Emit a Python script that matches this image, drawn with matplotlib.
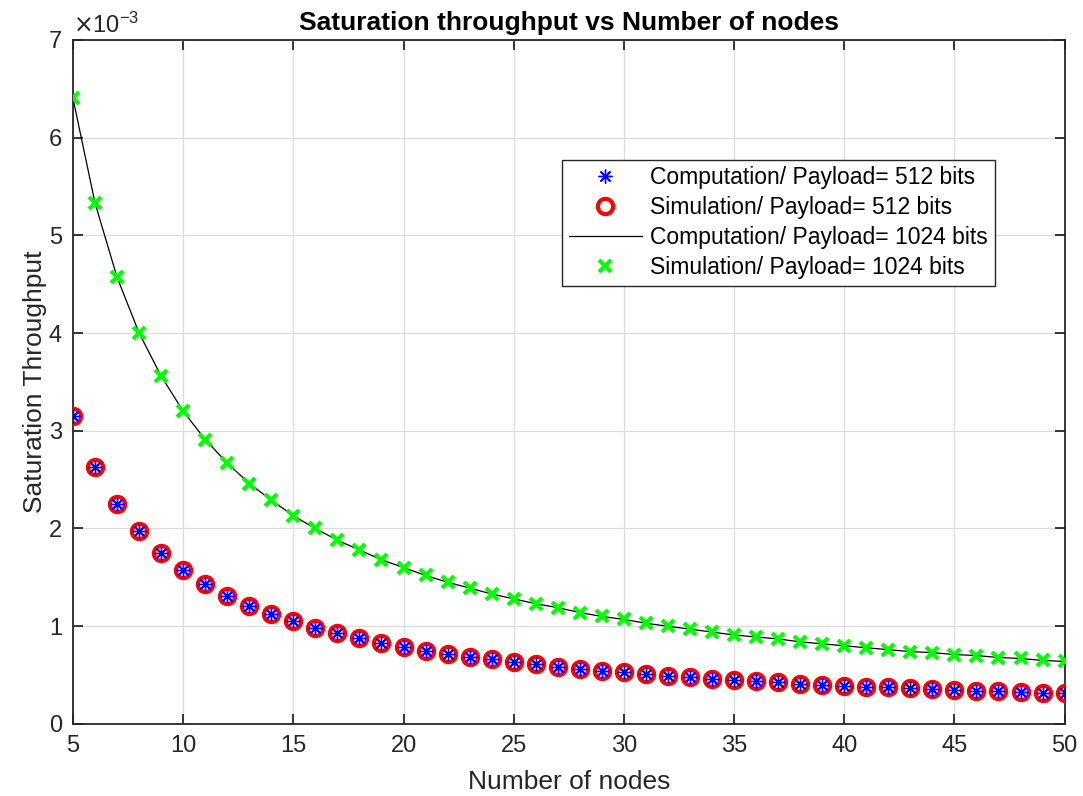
import numpy as np
import matplotlib.pyplot as plt

plt.rcParams['font.family'] = ['Liberation Sans', 'DejaVu Sans']

# Datos (throughput en unidades de 1e-3)
nodes = list(range(5, 51))
thr_512 = [3.15, 2.63, 2.25, 1.97, 1.75, 1.58, 1.43, 1.31, 1.21, 1.13,
           1.05, 0.98, 0.93, 0.88, 0.83, 0.79, 0.75, 0.72, 0.69, 0.66,
           0.63, 0.61, 0.58, 0.56, 0.54, 0.53, 0.51, 0.49, 0.48, 0.46,
           0.45, 0.44, 0.43, 0.41, 0.40, 0.39, 0.38, 0.38, 0.37, 0.36,
           0.35, 0.34, 0.34, 0.33, 0.32, 0.32]
thr_1024 = [6.40, 5.33, 4.57, 4.00, 3.56, 3.20, 2.91, 2.67, 2.46, 2.29,
            2.13, 2.00, 1.88, 1.78, 1.68, 1.60, 1.52, 1.45, 1.39, 1.33,
            1.28, 1.23, 1.19, 1.14, 1.10, 1.07, 1.03, 1.00, 0.97, 0.94,
            0.91, 0.89, 0.87, 0.84, 0.82, 0.80, 0.78, 0.76, 0.74, 0.73,
            0.71, 0.70, 0.68, 0.67, 0.65, 0.64]

x = np.array(nodes)
y512 = np.array(thr_512) * 1e-3
y1024 = np.array(thr_1024) * 1e-3

fig = plt.figure(figsize=(10.83, 7.96), dpi=100)
ax = fig.add_axes([0.0674, 0.0905, 0.9156, 0.8595])

ax.plot(x, y512, 'o', color='red', mfc='none', mew=3, ms=11, zorder=3,
        label='Simulation/ Payload= 512 bits')
ax.plot(x, y512, marker=(8, 2, 0), ls='none', color='blue', ms=10, mew=1,
        zorder=4, label='Computation/ Payload= 512 bits')
ax.plot(x, y1024, '-', color='black', lw=0.9, zorder=2,
        label='Computation/ Payload= 1024 bits')
ax.plot(x, y1024, 'x', color='#00ff00', ms=8, mew=3, zorder=3,
        label='Simulation/ Payload= 1024 bits')

ax.set_xlim(5, 50)
ax.set_ylim(0, 7e-3)
ax.set_xticks(np.arange(5, 51, 5))
ax.set_yticks(np.arange(0, 7.1e-3, 1e-3))
ax.set_yticklabels([str(i) for i in range(8)])
ax.text(0.0, 1.003, r'$\times\mathregular{10^{-3}}$', transform=ax.transAxes,
        fontsize=17, va='bottom', ha='left', color='#262626')

ax.grid(True, color='#dcdcdc', lw=0.9)
ax.tick_params(direction='in', length=7, width=1.3, labelsize=17,
               top=True, right=True, colors='#262626', pad=8)
for s in ax.spines.values():
    s.set_linewidth(1.3)
    s.set_color('#262626')

ax.set_title('Saturation throughput vs Number of nodes', fontsize=19,
             fontweight='bold', pad=7)
ax.set_xlabel('Number of nodes', fontsize=19, color='#262626', labelpad=9)
ax.set_ylabel('Saturation Throughput', fontsize=19, color='#262626',
              labelpad=1)

h, l = ax.get_legend_handles_labels()
order = [1, 0, 2, 3]
leg = ax.legend([h[i] for i in order], [l[i] for i in order],
                loc='upper left', bbox_to_anchor=(0.493, 0.825),
                fontsize=16.5, fancybox=False, framealpha=1,
                edgecolor='#262626', borderpad=0.3, labelspacing=0.3,
                handlelength=3.2, handletextpad=0.35, borderaxespad=0)
leg.get_frame().set_linewidth(1.0)

fig.savefig('out.png', dpi=100)
